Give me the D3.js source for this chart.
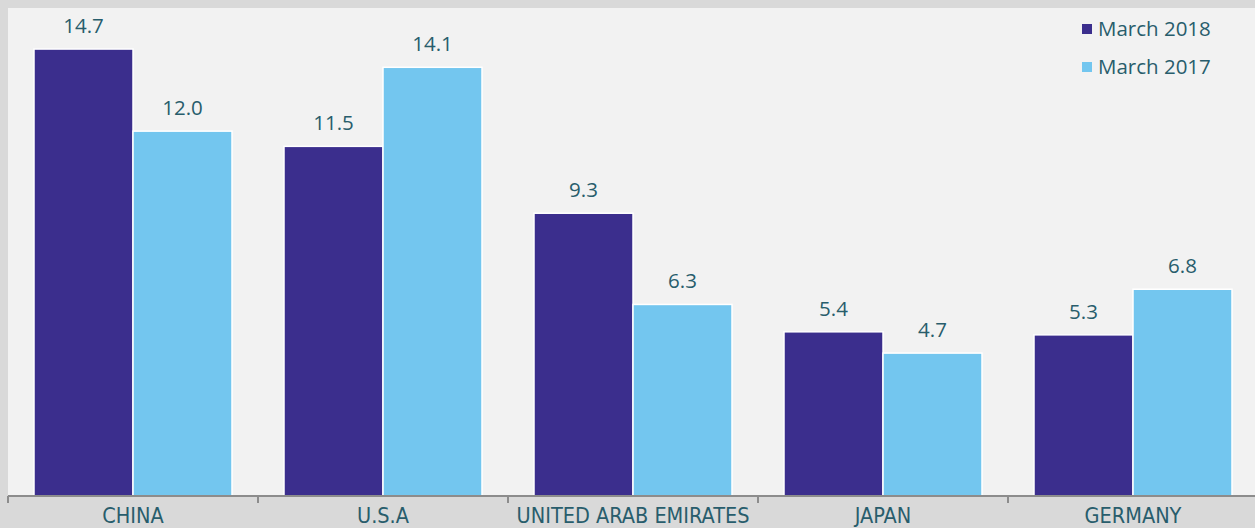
<!DOCTYPE html>
<html>
<head>
<meta charset="utf-8">
<script src="https://cdn.jsdelivr.net/npm/d3@7"></script>
<style>
  body { margin: 0; background: #d9d9d9; }
  svg { display: block; }
</style>
</head>
<body>
<script>
// data
const countries = ['CHINA', 'U.S.A', 'UNITED ARAB EMIRATES', 'JAPAN', 'GERMANY'];
const march2018 = [14.7, 11.5, 9.3, 5.4, 5.3];
const march2017 = [12.0, 14.1, 6.3, 4.7, 6.8];
const seriesNames = ['March 2018', 'March 2017'];
const colors = ['#3b2e8d', '#73c6ef'];

const width = 1255;
const height = 528;
const margin = { top: 8, right: 5, bottom: 32, left: 8 };
const textColor = '#285d6c';

const rows = countries.map((c, i) => ({ country: c, values: [march2018[i], march2017[i]] }));

const svg = d3.select('body').append('svg')
  .attr('width', width)
  .attr('height', height);

// plot area background
svg.append('rect')
  .attr('x', margin.left)
  .attr('y', margin.top)
  .attr('width', width - margin.left)
  .attr('height', height - margin.top - margin.bottom)
  .attr('fill', '#f2f2f2');

const x0 = d3.scaleBand()
  .domain(countries)
  .range([margin.left, margin.left + 250 * countries.length]);

const x1 = d3.scaleBand()
  .domain([0, 1])
  .range([26, 250 - 26]);

const y = d3.scaleLinear()
  .domain([0, 16.05])
  .range([height - margin.bottom, margin.top]);

const groups = svg.selectAll('g.country')
  .data(rows)
  .join('g')
  .attr('class', 'country')
  .attr('transform', (d) => `translate(${x0(d.country)},0)`);

groups.selectAll('rect')
  .data((d) => d.values.map((v, i) => ({ v, i })))
  .join('rect')
  .attr('x', (d) => x1(d.i))
  .attr('y', (d) => y(d.v))
  .attr('width', x1.bandwidth())
  .attr('height', (d) => y(0) - y(d.v))
  .attr('fill', (d) => colors[d.i])
  .attr('stroke', '#ffffff')
  .attr('stroke-width', 1.5);

groups.selectAll('text.value')
  .data((d) => d.values.map((v, i) => ({ v, i })))
  .join('text')
  .attr('class', 'value')
  .attr('x', (d) => x1(d.i) + x1.bandwidth() / 2)
  .attr('y', (d) => y(d.v) - 16)
  .attr('text-anchor', 'middle')
  .attr('font-family', 'Open Sans, sans-serif')
  .attr('font-size', 20.5)
  .attr('fill', textColor)
  .text((d) => d3.format('.1f')(d.v));

// x axis
const axis = svg.append('g')
  .attr('transform', `translate(0,${y(0)})`)
  .call(d3.axisBottom(x0).tickSize(0).tickPadding(0));
axis.select('.domain').remove();
axis.append('line')
  .attr('x1', margin.left).attr('x2', width)
  .attr('stroke', '#8c8c8c').attr('stroke-width', 2);
axis.selectAll('.sep')
  .data(d3.range(countries.length))
  .join('line')
  .attr('class', 'sep')
  .attr('x1', (i) => x0(countries[i]))
  .attr('x2', (i) => x0(countries[i]))
  .attr('y1', 0).attr('y2', 7)
  .attr('stroke', '#8c8c8c').attr('stroke-width', 2);
axis.selectAll('.tick text')
  .attr('y', 27)
  .attr('dy', 0)
  .attr('font-family', 'DejaVu Sans Condensed, sans-serif')
  .attr('font-size', 21.5)
  .attr('fill', textColor);

// legend
const legend = svg.append('g')
  .attr('transform', 'translate(1082,0)');
const items = legend.selectAll('g')
  .data(seriesNames)
  .join('g')
  .attr('transform', (d, i) => `translate(0,${29 + i * 38})`);
items.append('rect')
  .attr('x', 0).attr('y', -5)
  .attr('width', 10).attr('height', 10)
  .attr('fill', (d, i) => colors[i]);
items.append('text')
  .attr('x', 16)
  .attr('dy', '0.35em')
  .attr('font-family', 'Open Sans, sans-serif')
  .attr('font-size', 20.5)
  .attr('fill', textColor)
  .text((d) => d);
</script>
</body>
</html>
